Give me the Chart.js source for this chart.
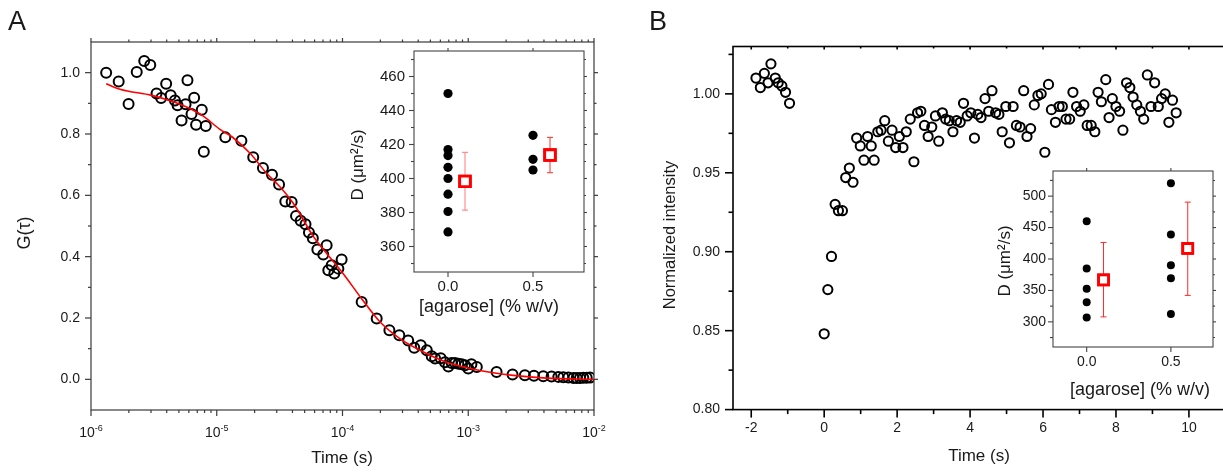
<!DOCTYPE html>
<html><head><meta charset="utf-8">
<script src="https://cdn.jsdelivr.net/npm/chart.js@4.4.1/dist/chart.umd.min.js"></script>
<style>
html,body{margin:0;padding:0;background:#fff;width:1223px;height:472px;overflow:hidden;position:relative;}
canvas{position:absolute;display:block;}
</style></head><body>
<canvas id="cA" width="612" height="472" style="left:0px;top:0px"></canvas>
<canvas id="cB" width="620" height="472" style="left:612px;top:0px"></canvas>
<canvas id="cAi" width="260" height="290" style="left:340px;top:40px"></canvas>
<canvas id="cBi" width="243" height="250" style="left:980px;top:160px"></canvas>
<script>
// ---------------- Panel A: autocorrelation G(tau) ----------------
const fcsLag = [1.32e-6,1.66e-6,1.99e-6,2.31e-6,2.65e-6,2.96e-6,3.32e-6,3.61e-6,3.96e-6,4.30e-6,
  4.65e-6,4.88e-6,5.25e-6,5.65e-6,5.85e-6,6.30e-6,6.61e-6,6.85e-6,7.60e-6,7.89e-6,8.18e-6,
  1.17e-5,1.57e-5,1.95e-5,2.33e-5,2.75e-5,3.13e-5,3.51e-5,3.94e-5,4.27e-5,4.65e-5,5.08e-5,5.41e-5,5.81e-5,
  6.31e-5,7.03e-5,7.48e-5,7.71e-5,8.20e-5,8.61e-5,9.27e-5,9.84e-5,
  1.42e-4,1.87e-4,2.36e-4,2.83e-4,3.33e-4,3.72e-4,4.19e-4,4.68e-4,5.12e-4,5.45e-4,6.04e-4,6.53e-4,6.95e-4,
  7.38e-4,7.85e-4,8.34e-4,8.87e-4,9.42e-4,1.00e-3,1.06e-3,1.17e-3,1.68e-3,2.25e-3,2.82e-3,3.33e-3,3.95e-3,
  4.60e-3,5.20e-3,5.70e-3,6.25e-3,6.86e-3,7.28e-3,7.74e-3,8.22e-3,8.75e-3,9.29e-3];
const fcsG = [1.000,0.971,0.898,1.002,1.038,1.025,0.932,0.917,0.964,0.926,
  0.909,0.894,0.844,0.897,0.975,0.865,0.918,0.830,0.879,0.742,0.826,
  0.789,0.778,0.724,0.689,0.667,0.635,0.580,0.578,0.533,0.517,0.506,0.479,0.460,
  0.423,0.407,0.437,0.356,0.372,0.345,0.361,0.391,
  0.252,0.198,0.160,0.144,0.127,0.103,0.111,0.095,0.075,0.068,0.069,0.056,0.042,
  0.053,0.053,0.051,0.049,0.046,0.035,0.049,0.040,0.024,0.016,0.013,0.012,0.010,
  0.009,0.008,0.007,0.006,0.004,0.004,0.004,0.005,0.005,0.006];
const fitLag = [1.32e-6,1.70e-6,3.04e-6,4.52e-6,6.12e-6,7.82e-6,1.06e-5,1.32e-5,1.84e-5,2.49e-5,3.18e-5,
  4.06e-5,5.86e-5,6.62e-5,1.01e-4,1.42e-4,1.99e-4,2.86e-4,4.13e-4,6.73e-4,1.24e-3,2.28e-3,4.20e-3,1.0e-2];
const fitG = [0.964,0.946,0.926,0.905,0.883,0.858,0.815,0.791,0.737,0.672,0.628,
  0.574,0.466,0.437,0.345,0.263,0.187,0.133,0.095,0.056,0.029,0.013,0.004,0.000];
const lagTicks = [1e-6,1e-5,1e-4,1e-3,1e-2];
const lagTickExp = ['-6','-5','-4','-3','-2'];
const gTicks = [0.0,0.2,0.4,0.6,0.8,1.0];

// ---------------- Inset A ----------------
const insetAConc = [0,0,0,0,0,0,0,0,0.5,0.5,0.5];
const insetAD = [450,417,413.5,406.6,400,390.8,380.6,368.6,425.4,411.3,405];
const insetAMeanX = [0.1,0.6];
const insetAMean = [398.3,413.8];
const insetALow = [381.4,403.4];
const insetAHigh = [415.4,424.2];
const insetAYTicks = [360,380,400,420,440,460];
const insetXTicks = [0.0,0.5];

// ---------------- Panel B: recovery ----------------
const frapTime = [-1.87,-1.75,-1.64,-1.54,-1.46,-1.34,-1.26,-1.16,-1.06,-0.95,
  0.00,0.10,0.20,0.30,0.39,0.50,0.59,0.69,0.79,0.89,0.99,1.09,1.19,1.29,1.37,1.47,1.56,1.66,1.76,1.86,1.96,
  2.06,2.16,2.25,2.36,2.46,2.56,2.65,2.75,2.85,2.95,3.05,3.14,3.24,3.33,3.43,3.53,3.63,3.73,3.82,3.92,
  4.02,4.12,4.21,4.30,4.41,4.51,4.60,4.70,4.79,4.88,4.98,5.08,5.18,5.27,5.37,5.47,5.56,5.66,5.76,5.86,5.95,
  6.05,6.15,6.23,6.34,6.44,6.53,6.63,6.73,6.82,6.92,7.02,7.12,7.21,7.32,7.42,7.51,7.60,7.72,7.81,7.90,
  8.00,8.10,8.19,8.29,8.38,8.47,8.57,8.67,8.76,8.86,8.96,9.06,9.16,9.25,9.35,9.45,9.55,9.65];
const frapI = [1.010,1.004,1.013,1.007,1.019,1.010,1.007,1.005,1.001,0.994,
  0.848,0.876,0.897,0.930,0.926,0.926,0.947,0.953,0.944,0.972,0.967,0.958,0.973,0.967,0.958,0.976,0.977,0.983,0.970,0.977,0.966,
  0.973,0.966,0.976,0.984,0.957,0.988,0.989,0.980,0.973,0.979,0.986,0.970,0.988,0.984,0.983,0.976,0.983,0.982,0.994,0.986,
  0.988,0.972,0.987,0.985,0.997,0.989,1.002,0.988,0.987,0.976,0.992,0.969,0.992,0.980,0.979,1.002,0.973,0.978,0.993,0.999,1.000,
  0.963,1.006,0.990,0.982,0.992,0.992,0.984,0.984,1.001,0.992,0.989,0.993,0.980,0.980,0.976,1.001,0.995,1.009,0.985,0.997,
  0.992,0.989,0.977,1.007,1.004,0.998,0.993,0.989,0.984,1.012,0.992,1.007,0.992,0.997,1.000,0.982,0.996,0.988];
const timeTicks = [-2,0,2,4,6,8,10];
const intTicks = [0.80,0.85,0.90,0.95,1.00];

// ---------------- Inset B ----------------
const insetBConc = [0,0,0,0,0,0.5,0.5,0.5,0.5,0.5];
const insetBD = [460,384.7,352.6,331,306.8,520.5,439,390,369.5,312.6];
const insetBMeanX = [0.1,0.6];
const insetBMean = [366.8,416.8];
const insetBLow = [307.9,342.1];
const insetBHigh = [426.3,490.5];
const insetBYTicks = [300,350,400,450,500];

// ---------------- helpers ----------------
const FF = "'Liberation Sans', Arial, Helvetica, sans-serif";
const pts = (xs, ys) => xs.map((x, i) => ({x, y: ys[i]}));
function midMinors(t, lo, hi) {
  const out = [], st = t[1] - t[0], e = 1e-9;
  for (let i = -1; i < t.length; i++) {
    const v = (i < 0 ? t[0] - st / 2 : t[i] + st / 2);
    if (v > lo + e && v < hi - e) out.push(v);
  }
  return out;
}
function logMinors(t) {
  const out = [];
  for (let i = 0; i < t.length - 1; i++) for (let m = 2; m <= 9; m++) out.push(t[i] * m);
  return out;
}
function text(c, s, x, y, size, align, base, rot, color) {
  c.save();
  c.font = size + 'px ' + FF;
  c.fillStyle = color || '#1a1a1a';
  c.textAlign = align; c.textBaseline = base;
  c.translate(x, y);
  if (rot) c.rotate(rot);
  c.fillText(s, 0, 0);
  c.restore();
}
function framePlugin(o) {
  return {
    id: 'frame',
    beforeDatasetsDraw(chart) {
      if (!o.fill) return;
      const a = chart.chartArea, c = chart.ctx;
      c.save(); c.fillStyle = '#fff';
      c.fillRect(a.left, a.top, a.right - a.left, a.bottom - a.top); c.restore();
    },
    afterDraw(chart) {
      const c = chart.ctx, a = chart.chartArea, xs = chart.scales.x, ys = chart.scales.y;
      const X = v => xs.getPixelForValue(v), Y = v => ys.getPixelForValue(v);
      c.save();
      if (o.err) {
        o.err.x.forEach((xv, i) => {
          const px = X(xv), p1 = Y(o.err.lo[i]), p2 = Y(o.err.hi[i]);
          c.strokeStyle = o.err.colors[i]; c.lineWidth = 1;
          c.beginPath(); c.moveTo(px, p1); c.lineTo(px, p2);
          c.moveTo(px - o.err.cap, p1); c.lineTo(px + o.err.cap, p1);
          c.moveTo(px - o.err.cap, p2); c.lineTo(px + o.err.cap, p2); c.stroke();
        });
        const ds = chart.getDatasetMeta(1);
        ds.data.forEach(el => el.draw(c));
      }
      c.strokeStyle = o.color; c.lineWidth = o.lw;
      const seg = (x1, y1, x2, y2) => { c.beginPath(); c.moveTo(x1, y1); c.lineTo(x2, y2); c.stroke(); };
      o.xMajor.forEach(v => { const p = X(v); seg(p, a.bottom, p, a.bottom + o.maj);
        if (o.topLen) seg(p, a.top, p, a.top + o.topDir * o.topLen[0]); });
      o.xMinor.forEach(v => { const p = X(v); seg(p, a.bottom, p, a.bottom + o.min);
        if (o.topLen) seg(p, a.top, p, a.top + o.topDir * o.topLen[1]); });
      o.yMajor.forEach(v => { const p = Y(v); seg(a.left, p, a.left - o.maj, p);
        if (o.rightLen) seg(a.right, p, a.right + o.rightLen[0], p); });
      o.yMinor.forEach(v => { const p = Y(v); seg(a.left, p, a.left - o.min, p);
        if (o.rightLen) seg(a.right, p, a.right + o.rightLen[1], p); });
      c.strokeRect(a.left, a.top, a.right - a.left, a.bottom - a.top);
      o.yMajor.forEach((v, i) => text(c, o.yLab[i], a.left - o.yGap, Y(v), o.tickSize, 'right', 'middle'));
      if (o.xPow) {
        o.xMajor.forEach((v, i) => {
          const cx = X(v), by = a.bottom + o.xGap;
          c.font = o.tickSize + 'px ' + FF; const wb = c.measureText('10').width;
          const es = Math.round(o.tickSize * 0.64);
          c.font = es + 'px ' + FF; const we = c.measureText(o.xPow[i]).width;
          const x0 = cx - (wb + we) / 2;
          text(c, '10', x0, by, o.tickSize, 'left', 'alphabetic');
          text(c, o.xPow[i], x0 + wb, by - o.tickSize * 0.45, es, 'left', 'alphabetic');
        });
      } else {
        o.xMajor.forEach((v, i) => text(c, o.xLab[i], X(v), a.bottom + o.xGap, o.tickSize, 'center', 'middle'));
      }
      (o.titles || []).forEach(t => text(c, t.s, t.x, t.y, t.size, t.align || 'center', t.base || 'middle', t.rot || 0));
      c.restore();
    }
  };
}
function pinScales(xType, xMin, xMax, yMin, yMax, yW, xH) {
  const common = { display: true, grid: { display: false }, border: { display: false }, ticks: { display: false } };
  return {
    x: Object.assign({}, common, { type: xType, min: xMin, max: xMax, afterFit(s) { s.height = xH; } }),
    y: Object.assign({}, common, { type: 'linear', min: yMin, max: yMax, afterFit(s) { s.width = yW; } })
  };
}
const baseOpts = (pad) => ({
  responsive: false, animation: false, events: [], devicePixelRatio: 1,
  layout: { padding: pad },
  plugins: { legend: { display: false }, tooltip: { enabled: false } }
});
const fmt = (v, d) => v.toFixed(d);

// ---------------- Chart A ----------------
new Chart(document.getElementById('cA'), {
  type: 'scatter',
  data: { datasets: [
    { type: 'line', data: pts(fitLag, fitG), borderColor: '#ff0000', borderWidth: 1.6, pointRadius: 0,
      cubicInterpolationMode: 'monotone', fill: false, order: 0 },
    { data: pts(fcsLag, fcsG), pointStyle: 'circle', pointRadius: 5, borderWidth: 2,
      borderColor: '#000', backgroundColor: 'rgba(0,0,0,0)', order: 1 }
  ] },
  options: Object.assign(baseOpts({ left: 0, top: 42, right: 18, bottom: 0 }), {
    scales: pinScales('logarithmic', 1e-6, 1e-2, -0.1, 1.1, 91, 62)
  }),
  plugins: [framePlugin({
    color: '#3a3a3a', lw: 1.2, maj: 6, min: 3, topLen: [4, 2.5], topDir: -1, rightLen: [4, 2.5],
    xMajor: lagTicks, xMinor: logMinors(lagTicks), yMajor: gTicks, yMinor: midMinors(gTicks, -0.1, 1.1),
    yLab: gTicks.map(v => fmt(v, 1)), xPow: lagTickExp, tickSize: 14, yGap: 11, xGap: 27,
    titles: [
      { s: 'A', x: 8, y: 30, size: 27, align: 'left', base: 'alphabetic' },
      { s: 'Time (s)', x: 342, y: 458, size: 17 },
      { s: 'G(\u03C4)', x: 25, y: 233, size: 18, rot: -Math.PI / 2 }
    ]
  })]
});

// ---------------- Inset A ----------------
new Chart(document.getElementById('cAi'), {
  type: 'scatter',
  data: { datasets: [
    { data: pts(insetAConc, insetAD), pointStyle: 'circle', pointRadius: 4.6, borderWidth: 0,
      backgroundColor: '#000', borderColor: '#000' },
    { data: pts(insetAMeanX, insetAMean), pointStyle: 'rect', pointRadius: 7.5, borderWidth: 2.8,
      borderColor: '#ff0000', backgroundColor: '#fff' }
  ] },
  options: Object.assign(baseOpts({ left: 0, top: 11, right: 16, bottom: 0 }), {
    scales: pinScales('linear', -0.2, 0.8, 345, 475, 74, 58)
  }),
  plugins: [framePlugin({
    fill: true, color: '#444', lw: 1.1, maj: 5, min: 3, topLen: [3, 0], topDir: -1, rightLen: [3, 2],
    xMajor: insetXTicks, xMinor: [], yMajor: insetAYTicks, yMinor: midMinors(insetAYTicks, 345, 475),
    yLab: insetAYTicks.map(v => String(v)), xLab: insetXTicks.map(v => fmt(v, 1)), tickSize: 15, yGap: 9, xGap: 15,
    err: { x: insetAMeanX, lo: insetALow, hi: insetAHigh, colors: ['#ff7a7a', '#ff2a2a'], cap: 3 },
    titles: [
      { s: '[agarose] (% w/v)', x: 149, y: 267, size: 18 },
      { s: 'D (\u03BCm\u00B2/s)', x: 18, y: 125, size: 17, rot: -Math.PI / 2 }
    ]
  })]
});

// ---------------- Chart B ----------------
new Chart(document.getElementById('cB'), {
  type: 'scatter',
  data: { datasets: [
    { data: pts(frapTime, frapI), pointStyle: 'circle', pointRadius: 4.6, borderWidth: 2,
      borderColor: '#000', backgroundColor: 'rgba(0,0,0,0)' }
  ] },
  options: Object.assign(baseOpts({ left: 0, top: 46.5, right: 6.25, bottom: 0 }), {
    scales: pinScales('linear', -2.5, 11, 0.80, 1.03, 121, 62.4)
  }),
  plugins: [framePlugin({
    color: '#000', lw: 1.6, maj: 8, min: 4.5, topLen: [3, 2], topDir: 1,
    xMajor: timeTicks, xMinor: midMinors(timeTicks, -2.5, 11), yMajor: intTicks, yMinor: midMinors(intTicks, 0.80, 1.03),
    yLab: intTicks.map(v => fmt(v, 2)), xLab: timeTicks.map(v => String(v)), tickSize: 14, yGap: 13, xGap: 19,
    titles: [
      { s: 'B', x: 37, y: 30, size: 27, align: 'left', base: 'alphabetic' },
      { s: 'Time (s)', x: 367, y: 456, size: 17 },
      { s: 'Normalized intensity', x: 58, y: 235, size: 16.5, rot: -Math.PI / 2 }
    ]
  })]
});

// ---------------- Inset B ----------------
new Chart(document.getElementById('cBi'), {
  type: 'scatter',
  data: { datasets: [
    { data: pts(insetBConc, insetBD), pointStyle: 'circle', pointRadius: 4, borderWidth: 0,
      backgroundColor: '#000', borderColor: '#000' },
    { data: pts(insetBMeanX, insetBMean), pointStyle: 'rect', pointRadius: 7, borderWidth: 2.8,
      borderColor: '#ff0000', backgroundColor: '#fff' }
  ] },
  options: Object.assign(baseOpts({ left: 0, top: 11, right: 10, bottom: 0 }), {
    scales: pinScales('linear', -0.2, 0.75, 260, 540, 73, 63)
  }),
  plugins: [framePlugin({
    fill: true, color: '#444', lw: 1.1, maj: 5, min: 3, topLen: [3, 0], topDir: -1, rightLen: [3, 2],
    xMajor: insetXTicks, xMinor: [], yMajor: insetBYTicks, yMinor: midMinors(insetBYTicks, 260, 540),
    yLab: insetBYTicks.map(v => String(v)), xLab: insetXTicks.map(v => fmt(v, 1)), tickSize: 14, yGap: 7, xGap: 15,
    err: { x: insetBMeanX, lo: insetBLow, hi: insetBHigh, colors: ['#ff2a2a', '#ff2a2a'], cap: 3 },
    titles: [
      { s: '[agarose] (% w/v)', x: 160, y: 230, size: 18 },
      { s: 'D (\u03BCm\u00B2/s)', x: 25, y: 101, size: 17, rot: -Math.PI / 2 }
    ]
  })]
});
</script>
</body></html>
